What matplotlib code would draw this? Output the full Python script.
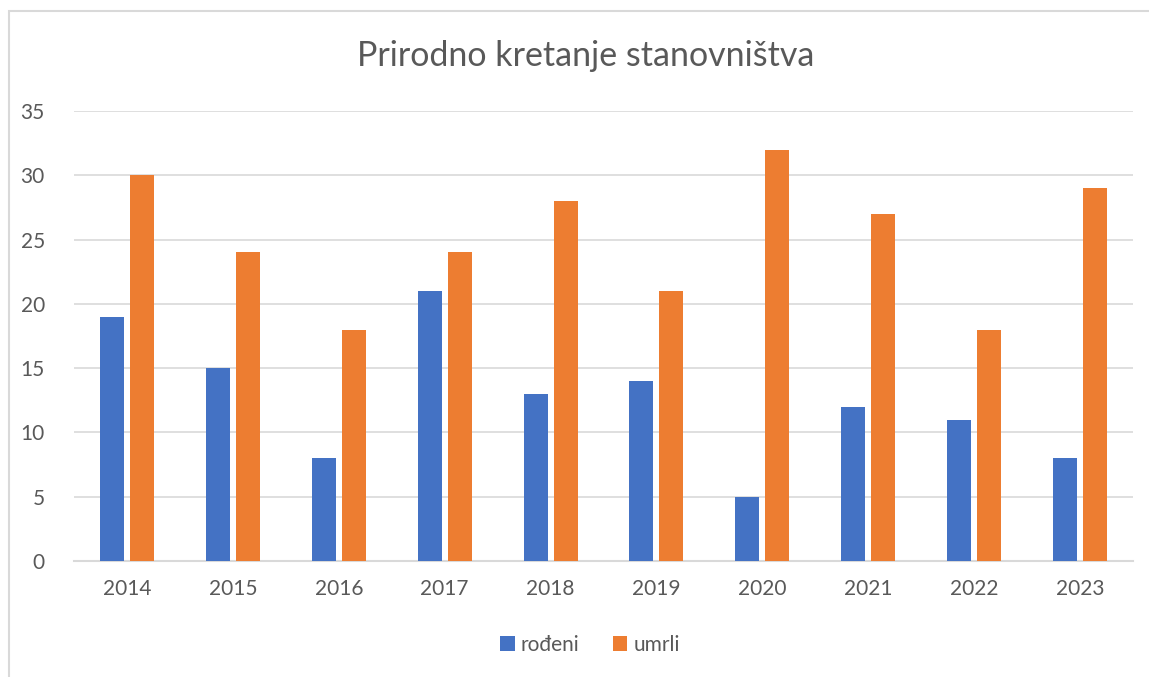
import numpy as np
import matplotlib.pyplot as plt
from matplotlib.patches import Rectangle

years = ['2014', '2015', '2016', '2017', '2018', '2019', '2020', '2021', '2022', '2023']
rodjeni = [19, 15, 8, 21, 13, 14, 5, 12, 11, 8]
umrli = [30, 24, 18, 24, 28, 21, 32, 27, 18, 29]

plt.rcParams['font.family'] = ['Lato', 'DejaVu Sans']
txt = '#595959'
grid = '#d9d9d9'

W, H = 1149, 677
fig = plt.figure(figsize=(W / 100, H / 100), dpi=100)
fig.patches.append(Rectangle((9 / W, -0.1), 1.2, 1 - 11 / H + 0.1, transform=fig.transFigure,
                             fill=False, edgecolor=grid, linewidth=1.5))

ax = fig.add_axes([74 / W, 1 - 561 / H, (1133 - 74) / W, (561 - 111) / H])
x = np.arange(len(years))
off = 0.1416
bw = 0.227
ax.bar(x - off, rodjeni, bw, color='#4472C4', label='rođeni', zorder=3)
ax.bar(x + off, umrli, bw, color='#ED7D31', label='umrli', zorder=3)

ax.set_xlim(-0.5, len(years) - 0.5)
ax.set_ylim(0, 35)
ax.set_yticks(range(0, 36, 5))
ax.set_xticks(x)
ax.set_xticklabels(years)
ax.yaxis.grid(True, color=grid, linewidth=1.2, zorder=0)
for s in ['top', 'right', 'left']:
    ax.spines[s].set_visible(False)
ax.spines['bottom'].set_color(grid)
ax.spines['bottom'].set_linewidth(1.5)
ax.tick_params(length=0, labelsize=15, colors=txt)
ax.tick_params(axis='x', pad=13)
ax.tick_params(axis='y', pad=21)

fig.text(586 / W, 1 - 56 / H, 'Prirodno kretanje stanovništva', ha='center', va='center',
         fontsize=24.5, color=txt)

fig.legend(loc='center', bbox_to_anchor=(590 / W, 1 - 645 / H), ncol=2, frameon=False,
           fontsize=15, labelcolor=txt, handlelength=0.7, handleheight=0.7,
           handletextpad=0.3, columnspacing=1.6)

fig.savefig('out.png', dpi=100)
